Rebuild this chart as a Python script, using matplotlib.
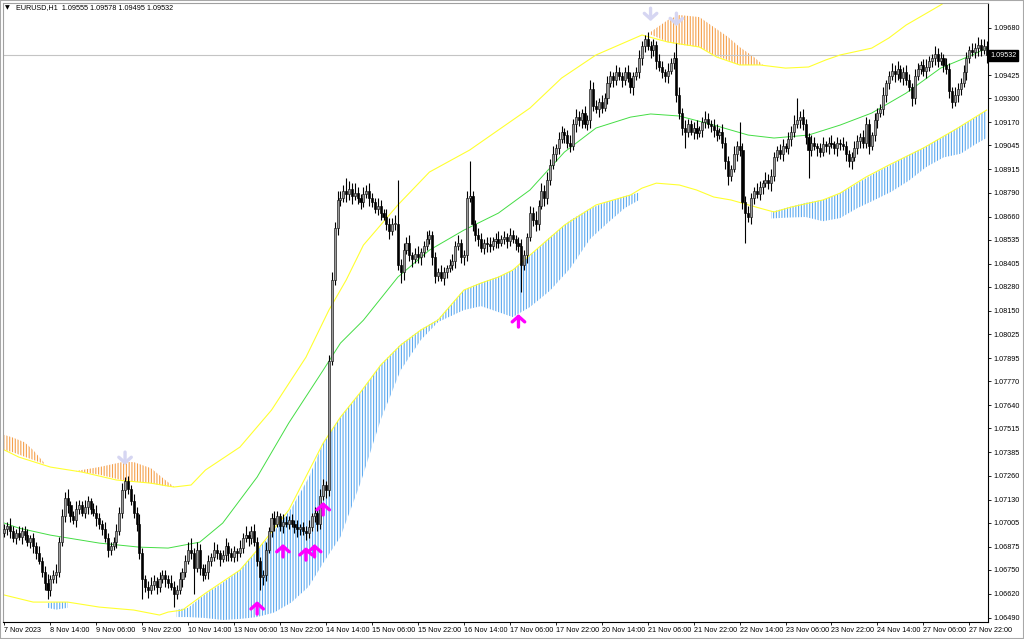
import numpy as np
import matplotlib
matplotlib.use("Agg")
import matplotlib.pyplot as plt
from matplotlib.patches import Rectangle
from matplotlib.transforms import blended_transform_factory

plt.rcParams["font.family"] = ["Liberation Sans", "DejaVu Sans"]
plt.rcParams["hatch.linewidth"] = 0.8

BASE = 1.06     # every *_pips value below is pips above this price
PIP = 0.0001

# H1 candles, one per bar (close in pips above BASE); open = previous close
first_open_pips = 95
close_pips = [
    97, 99, 96, 92, 95, 93, 96, 94, 90, 92,
    88, 84, 80, 74, 68, 64, 70, 72, 74, 90,
    104, 114, 110, 104, 102, 108, 110, 106, 109, 112,
    108, 106, 103, 100, 97, 92, 86, 88, 90, 96,
    106, 118, 123, 119, 112, 106, 100, 84, 70, 66,
    64, 67, 69, 66, 70, 72, 70, 68, 66, 62,
    64, 70, 74, 80, 86, 84, 76, 86, 76, 72,
    74, 80, 82, 86, 84, 81, 83, 88, 84, 82,
    85, 84, 87, 92, 94, 92, 96, 90, 80, 71,
    72, 86, 96, 103, 100, 104, 99, 101, 100, 102,
    100, 98, 97, 98, 96, 95, 98, 104, 106, 100,
    115, 121, 118, 188, 232, 260, 275, 276, 280, 278,
    281, 277, 279, 276, 274, 278, 280, 276, 274, 270,
    272, 268, 266, 262, 258, 262, 262, 240, 236, 248,
    252, 245, 243, 246, 244, 247, 250, 254, 256, 244,
    234, 236, 233, 236, 238, 240, 242, 250, 252, 244,
    245, 276, 277, 262, 256, 254, 249, 252, 251, 250,
    253, 254, 252, 254, 255, 253, 256, 254, 252, 250,
    240, 245, 255, 268, 264, 262, 272, 280, 276, 286,
    294, 300, 303, 308, 312, 310, 306, 304, 316, 320,
    318, 322, 316, 318, 335, 326, 324, 328, 325, 330,
    338, 342, 340, 344, 342, 340, 344, 341, 336, 342,
    344, 352, 358, 362, 358, 356, 359, 350, 347, 344,
    342, 345, 349, 352, 332, 322, 314, 312, 316, 312,
    314, 311, 313, 317, 319, 316, 315, 313, 310, 312,
    306, 296, 288, 292, 300, 304, 302, 274, 268, 266,
    276, 280, 278, 282, 284, 286, 284, 288, 298, 302,
    300, 304, 303, 308, 312, 316, 318, 320, 316, 309,
    302, 306, 304, 303, 301, 305, 304, 306, 305, 303,
    306, 305, 304, 300, 296, 298, 303, 307, 309, 306,
    316, 304, 310, 318, 322, 324, 332, 338, 342, 345,
    343, 346, 341, 344, 340, 336, 330, 342, 346, 348,
    345, 347, 350, 352, 354, 350, 352, 348, 346, 334,
    328, 332, 335, 338, 344, 352, 356, 355, 357, 359,
    356, 358, 353.2,
]
# wick lengths in pips above the body top / below the body bottom
wick_up = [
    3, 2, 4, 3, 2, 4, 2, 3, 3, 2, 3, 2, 4, 2, 3, 5, 2, 3, 4, 3,
    4, 3, 5, 2, 3, 4, 3, 2, 4, 3, 2, 3, 4, 3, 2, 4, 3, 2, 3, 4,
    3, 4, 2, 3, 2, 4, 3, 5, 3, 2, 3, 4, 3, 2, 4, 3, 3, 2, 4, 3,
    3, 4, 2, 3, 4, 6, 3, 4, 3, 2, 4, 3, 2, 4, 3, 2, 3, 4, 2, 3,
    3, 2, 4, 3, 5, 2, 3, 4, 3, 2, 3, 4, 2, 3, 4, 3, 2, 4, 3, 2,
    3, 2, 4, 2, 3, 3, 4, 2, 3, 2, 4, 3, 2, 3, 4, 3, 5, 4, 3, 7,
    4, 3, 5, 3, 2, 4, 3, 4, 3, 2, 4, 3, 2, 4, 3, 3, 5, 24, 3, 4,
    3, 4, 2, 3, 4, 2, 3, 4, 3, 2, 3, 2, 4, 3, 2, 3, 4, 3, 4, 2,
    3, 4, 19, 3, 2, 4, 3, 2, 3, 4, 2, 3, 4, 2, 3, 2, 4, 3, 2, 3,
    4, 3, 2, 4, 3, 5, 3, 4, 3, 4, 3, 4, 2, 4, 3, 2, 3, 4, 3, 4,
    3, 2, 4, 3, 5, 4, 3, 2, 4, 3, 4, 3, 2, 4, 3, 2, 3, 4, 3, 2,
    3, 4, 3, 2, 4, 3, 3, 2, 4, 3, 2, 4, 3, 3, 8, 4, 3, 4, 3, 2,
    3, 4, 2, 3, 4, 3, 2, 4, 3, 2, 4, 3, 3, 2, 4, 3, 13, 4, 3, 4,
    3, 2, 4, 3, 2, 4, 3, 4, 3, 2, 3, 4, 2, 4, 3, 5, 12, 3, 4, 3,
    2, 4, 3, 2, 3, 4, 2, 3, 4, 2, 3, 2, 4, 3, 2, 3, 4, 3, 2, 4,
    4, 3, 2, 4, 3, 3, 4, 2, 3, 4, 3, 4, 2, 3, 4, 3, 2, 4, 3, 2,
    3, 4, 3, 2, 4, 3, 3, 2, 4, 3, 2, 4, 3, 3, 4, 3, 2, 4, 3, 4,
    3, 4, 3,
]
wick_dn = [
    2, 3, 4, 2, 3, 2, 4, 3, 2, 3, 4, 3, 2, 3, 4, 5, 3, 2, 4, 3,
    2, 3, 4, 3, 2, 4, 3, 2, 3, 4, 3, 2, 4, 3, 3, 2, 4, 3, 2, 3,
    2, 3, 4, 3, 2, 3, 4, 3, 11, 3, 4, 2, 3, 4, 3, 2, 4, 3, 2, 7,
    3, 2, 4, 3, 2, 3, 14, 2, 4, 3, 2, 4, 3, 2, 3, 4, 2, 3, 4, 2,
    3, 4, 2, 3, 2, 4, 3, 2, 3, 7, 4, 3, 2, 3, 4, 2, 3, 4, 2, 3,
    2, 3, 4, 3, 2, 4, 3, 2, 3, 4, 3, 2, 4, 3, 2, 3, 4, 3, 2, 4,
    3, 4, 2, 3, 4, 3, 2, 4, 3, 2, 3, 4, 2, 3, 4, 2, 3, 3, 6, 4,
    2, 3, 4, 2, 3, 4, 3, 2, 3, 4, 4, 3, 2, 4, 3, 2, 3, 4, 2, 3,
    4, 3, 2, 4, 3, 4, 2, 3, 4, 3, 2, 4, 3, 2, 3, 4, 3, 2, 4, 3,
    15, 3, 4, 2, 3, 4, 3, 2, 4, 3, 3, 2, 4, 3, 2, 4, 3, 3, 2, 4,
    3, 4, 2, 3, 4, 3, 2, 4, 3, 2, 3, 2, 4, 3, 2, 4, 3, 2, 3, 4,
    2, 3, 4, 3, 2, 4, 3, 4, 2, 3, 3, 4, 2, 3, 4, 3, 4, 9, 3, 2,
    4, 3, 2, 4, 3, 2, 3, 4, 3, 2, 3, 4, 5, 3, 2, 4, 3, 4, 16, 3,
    4, 3, 2, 3, 4, 2, 3, 4, 3, 2, 3, 4, 2, 3, 4, 3, 2, 4, 3, 4,
    15, 3, 2, 4, 3, 2, 3, 4, 2, 3, 4, 3, 2, 4, 3, 4, 2, 3, 4, 3,
    3, 4, 2, 3, 4, 2, 3, 4, 3, 2, 4, 3, 2, 4, 3, 2, 4, 3, 2, 3,
    3, 4, 2, 3, 4, 3, 2, 4, 3, 4, 3, 2, 4, 3, 2, 4, 3, 2, 3, 4,
    3, 2, 4,
]

# channel lines (bar index, pips)
mid_bars = [0, 5, 16, 33, 47, 57, 68, 76, 88, 99, 111, 117, 125, 137, 148, 160,
            172, 183, 195, 206, 218, 225, 235, 247, 259, 268, 280, 291, 302, 314,
            326, 337, 342]
mid_pips = [100.3, 97.6, 93.8, 89.5, 87.3, 86.8, 90.0, 100.3, 125.2, 154.4, 183.0,
            197.6, 210.0, 233.3, 247.9, 258.7, 267.9, 280.4, 300.9, 313.9, 319.8,
            321.5, 320.4, 315.5, 310.1, 308.5, 310.1, 315.5, 322.0, 332.8, 346.3,
            353.4, 357.1]
upper_bars = [0, 5, 16, 27, 39, 51, 59, 65, 70, 82, 93, 105, 113, 119, 125, 137,
              148, 162, 173, 183, 194, 206, 218, 222, 231, 242, 248, 256, 263, 272,
              280, 286, 291, 302, 308, 314, 326, 342]
upper_pips = [139.8, 136.0, 130.6, 127.9, 123.6, 121.9, 119.8, 120.9, 129.0, 141.4,
              161.4, 190.0, 215.5, 231.7, 250.6, 272.3, 290.1, 302.0, 313.9, 324.7,
              340.9, 353.4, 361.5, 364.2, 360.4, 357.7, 352.3, 348.0, 348.0, 346.3,
              346.9, 350.7, 353.4, 357.1, 362.6, 369.6, 380.4, 396.6]
lower_bars = [0, 10, 22, 33, 45, 54, 57, 62, 70, 82, 88, 99, 111, 117, 124, 131,
              138, 145, 151, 160, 166, 172, 177, 183, 195, 206, 218, 222, 227, 235,
              241, 247, 253, 263, 268, 274, 285, 291, 300, 308, 320, 332, 342]
lower_pips = [61.4, 57.6, 57.6, 54.9, 53.3, 50.6, 52.2, 53.3, 62.4, 74.9, 85.7,
              107.3, 143.6, 157.6, 171.1, 185.7, 196.6, 204.7, 210.1, 226.3, 230.1,
              233.3, 237.1, 245.2, 261.4, 272.3, 277.7, 281.4, 284.1, 283.1, 280.4,
              276.6, 275.0, 270.6, 268.5, 271.2, 275.0, 278.7, 287.4, 293.9, 303.1,
              313.9, 323.6]

# blue histogram blocks below the lower band (bar, top pips, bottom pips)
blue1_bars = [15, 18, 22]
blue1_top = [57.0, 57.6, 57.6]
blue1_bot = [54.5, 53.5, 54.5]
blue2_bars = [60, 64, 70, 76, 82, 88, 94, 100, 106, 111, 117, 124, 131, 138, 145,
              151, 160, 166, 172, 177, 183, 190, 197, 204, 210, 216, 221]
blue2_top = [53.5, 54.5, 62.0, 68.0, 75.0, 85.7, 96.0, 108.5, 125.0, 143.6, 157.6,
             171.0, 186.0, 197.0, 205.0, 210.5, 226.5, 230.3, 233.5, 237.0, 245.0,
             255.0, 264.0, 270.5, 274.0, 277.0, 279.0]
blue2_bot = [49.5, 49.5, 49.0, 47.9, 48.5, 49.5, 52.0, 57.5, 66.0, 78.7, 92.8,
             122.0, 156.0, 183.0, 199.3, 209.0, 215.5, 217.6, 214.4, 211.7, 217.1,
             226.0, 238.0, 254.0, 262.5, 270.6, 275.0]
blue3_bars = [267, 273, 279, 285, 291, 297, 303, 309, 315, 321, 327, 333, 338, 342]
blue3_top = [268.5, 271.0, 273.5, 275.0, 278.7, 284.0, 289.5, 294.3, 299.5, 304.0,
             309.5, 315.0, 319.5, 323.6]
blue3_bot = [265.0, 265.5, 265.8, 263.5, 265.2, 270.6, 275.0, 279.6, 285.5, 292.8,
             298.0, 300.0, 305.0, 308.5]

# orange histogram blocks above the upper band
orange1_bars = [0, 3, 7, 10, 14]
orange1_bot = [139.8, 138.6, 136.2, 134.5, 132.2]
orange1_top = [148.0, 146.5, 144.0, 139.8, 132.6]
orange2_bars = [25, 33, 41, 45, 51, 56, 59]
orange2_bot = [128.3, 126.5, 123.5, 122.8, 121.8, 120.3, 119.8]
orange2_top = [128.5, 130.6, 133.3, 133.3, 130.0, 123.6, 120.0]
orange3_bars = [225, 231, 235, 242, 247, 252, 256, 261, 264]
orange3_bot = [364.5, 360.4, 359.0, 357.7, 353.5, 350.5, 348.0, 348.0, 348.0]
orange3_top = [365.8, 372.3, 375.0, 373.9, 368.5, 363.1, 357.7, 352.3, 348.2]

# signal arrows (bar, tip pips)
buy_bars = [88, 97, 105, 108, 111, 179]
buy_tips = [58.1, 89.0, 87.3, 89.0, 111.7, 213.3]
sell_bars = [42, 225, 234]
sell_tips = [131.7, 371.7, 369.0]

# 1.09555 sits under the last-price box, so it is left out
price_ticks = [1.09680, 1.09425, 1.09300, 1.09170, 1.09045, 1.08915,
               1.08790, 1.08660, 1.08535, 1.08405, 1.08280, 1.08150, 1.08025,
               1.07895, 1.07770, 1.07640, 1.07515, 1.07385, 1.07260, 1.07130,
               1.07005, 1.06875, 1.06750, 1.06620, 1.06490]
time_labels = ["7 Nov 2023", "8 Nov 14:00", "9 Nov 06:00", "9 Nov 22:00",
               "10 Nov 14:00", "13 Nov 06:00", "13 Nov 22:00", "14 Nov 14:00",
               "15 Nov 06:00", "15 Nov 22:00", "16 Nov 14:00", "17 Nov 06:00",
               "17 Nov 22:00", "20 Nov 14:00", "21 Nov 06:00", "21 Nov 22:00",
               "22 Nov 14:00", "23 Nov 06:00", "23 Nov 22:00", "24 Nov 14:00",
               "27 Nov 06:00", "27 Nov 22:00"]
BARS_PER_LABEL = 16
last_price = 1.09532
header = "EURUSD,H1  1.09555 1.09578 1.09495 1.09532"


def px(p):
    return BASE + np.asarray(p, dtype=float) * PIP


fig = plt.figure(figsize=(10.24, 6.39), dpi=100)
ax = fig.add_axes([3 / 1024, 17 / 639, 985 / 1024, 619 / 639])

# hatched histograms
for bars, bot, top, col in [
    (blue1_bars, blue1_bot, blue1_top, "#5eaaf0"),
    (blue2_bars, blue2_bot, blue2_top, "#5eaaf0"),
    (blue3_bars, blue3_bot, blue3_top, "#5eaaf0"),
    (orange1_bars, orange1_bot, orange1_top, "#f5a04c"),
    (orange2_bars, orange2_bot, orange2_top, "#f5a04c"),
    (orange3_bars, orange3_bot, orange3_top, "#f5a04c"),
]:
    ax.fill_between(bars, px(bot), px(top), facecolor="none", edgecolor=col,
                    hatch="||||||", linewidth=0, zorder=1)

ax.plot(upper_bars, px(upper_pips), color="#ffff30", lw=0.8, zorder=2)
ax.plot(lower_bars, px(lower_pips), color="#ffff30", lw=0.8, zorder=2)
ax.plot(mid_bars, px(mid_pips), color="#44dd44", lw=0.7, zorder=2)

ax.axhline(last_price, color="#c4c4c4", lw=0.8, zorder=1.5)

# candles
close = px(close_pips)
opn = np.r_[px(first_open_pips), close[:-1]]
hi = np.maximum(opn, close) + np.asarray(wick_up) * PIP
lo = np.minimum(opn, close) - np.asarray(wick_dn) * PIP
x = np.arange(len(close))
up = close >= opn
body = np.maximum(np.abs(close - opn), 0.00003)
low_body = np.minimum(opn, close)
ax.vlines(x, lo, hi, color="black", lw=0.8, zorder=3)
ax.bar(x[up], body[up], bottom=low_body[up], width=0.72, color="#9c9c9c",
       edgecolor="#111111", linewidth=0.45, zorder=4)
ax.bar(x[~up], body[~up], bottom=low_body[~up], width=0.72, color="black",
       edgecolor="black", linewidth=0.45, zorder=4)

# arrows
for b, t in zip(buy_bars, buy_tips):
    ax.annotate("", xy=(b, px(t)), xytext=(b, px(t - 7)),
                arrowprops=dict(arrowstyle="->,head_width=0.45,head_length=0.4",
                                color="#ff00ff", lw=2.4, shrinkA=0, shrinkB=0),
                zorder=6)
for b, t in zip(sell_bars, sell_tips):
    ax.annotate("", xy=(b, px(t)), xytext=(b, px(t + 7)),
                arrowprops=dict(arrowstyle="->,head_width=0.45,head_length=0.4",
                                color="#d6d6f2", lw=2.4, shrinkA=0, shrinkB=0),
                zorder=6)

ax.set_xlim(-0.5, len(close) - 0.5)
ax.set_ylim(1.064683, 1.09815)

ax.yaxis.tick_right()
ax.set_yticks(price_ticks)
ax.set_yticklabels([f"{v:.5f}" for v in price_ticks])
ax.tick_params(axis="y", direction="out", length=2.5, width=0.6, pad=1.5,
               labelsize=5.2, colors="black")
ax.set_xticks(range(0, BARS_PER_LABEL * len(time_labels), BARS_PER_LABEL))
ax.set_xticklabels(time_labels)
ax.tick_params(axis="x", direction="out", length=2.5, width=0.6, pad=1.2,
               labelsize=5.2)
for lab in ax.get_xticklabels():
    lab.set_horizontalalignment("left")

for side in ["right", "bottom"]:
    ax.spines[side].set_color("black")
    ax.spines[side].set_linewidth(0.8)
for side in ["left", "top"]:
    ax.spines[side].set_color("#a0a0a0")
    ax.spines[side].set_linewidth(0.8)

trans = blended_transform_factory(ax.transAxes, ax.transData)
ax.text(1.002, last_price, "1.09532", transform=trans, ha="left", va="center",
        color="white", fontsize=5.2, clip_on=False, zorder=10,
        bbox=dict(boxstyle="square,pad=0.25", fc="black", ec="black"))

fig.text(5 / 1024, 1 - 8 / 639, "\u25bc", fontsize=4.5, va="center",
         family=["DejaVu Sans"])
fig.text(16 / 1024, 1 - 8 / 639, header, fontsize=5.2, va="center")

# window frame
fig.patches.append(Rectangle((0, 0), 1, 1, transform=fig.transFigure,
                             fill=False, edgecolor="#a8a8a8", lw=1.5))

fig.savefig("out.png", dpi=100)
